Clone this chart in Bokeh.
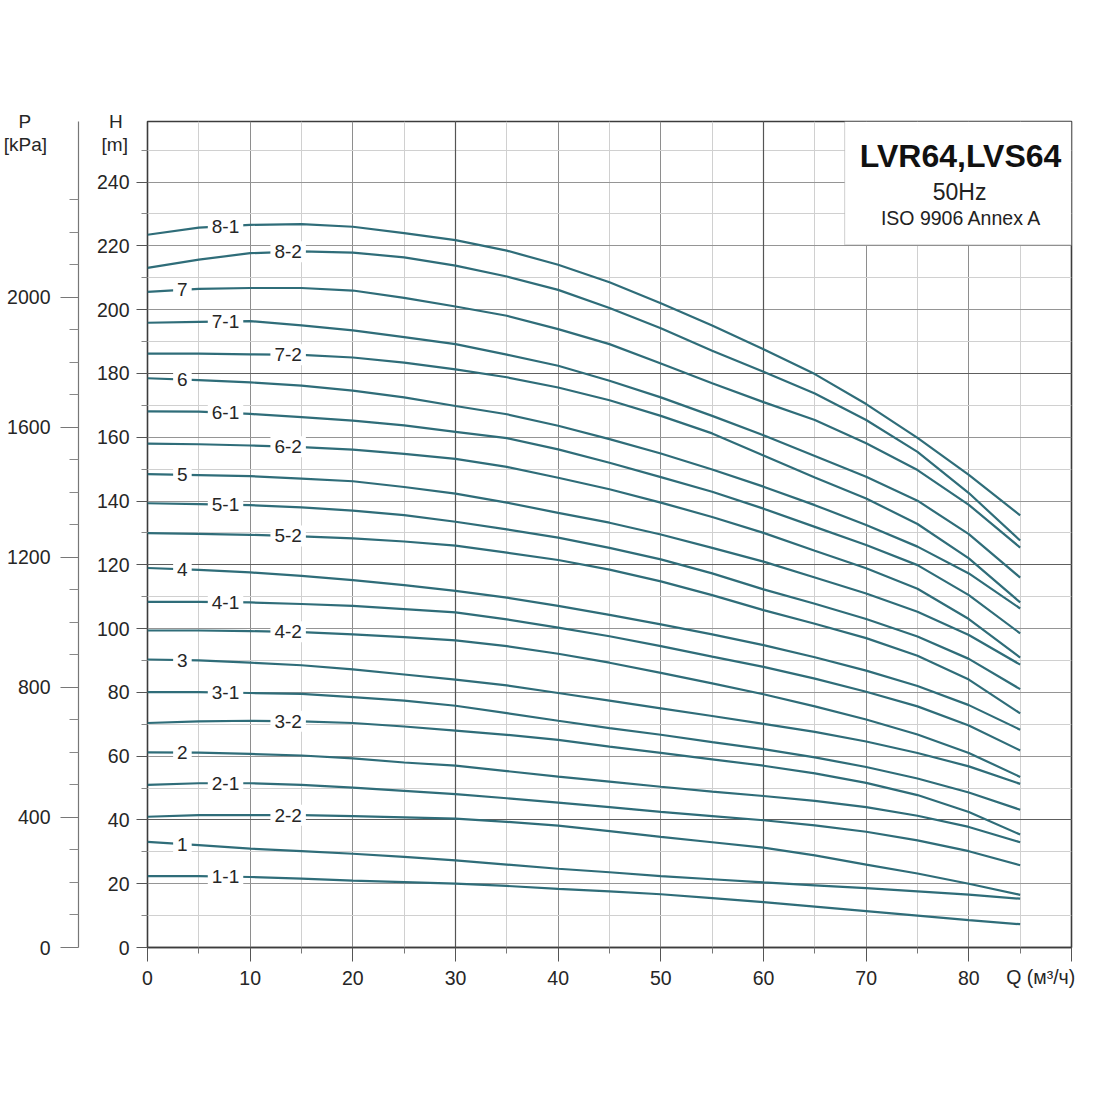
import numpy as np
from bokeh.plotting import figure
from bokeh.models import (Range1d, LinearAxis, FixedTicker, Grid, BoxAnnotation,
                          Label, ColumnDataSource)
from bokeh.embed import file_html
from bokeh.resources import INLINE
from bokeh.core.properties import value

# ---------------- data ----------------
q = [0, 5, 10, 15, 20, 25, 30, 35, 40, 45, 50, 55, 60, 65, 70, 75, 80, 85]

h_8_1 = [223.5, 225.7, 226.6, 226.8, 226.0, 224.0, 221.8, 218.5, 214.1, 208.6, 202.0, 195.0, 187.6, 179.8, 170.4, 159.8, 148.2, 135.5]
h_8_2 = [213.1, 215.7, 217.7, 218.3, 217.9, 216.4, 213.8, 210.4, 206.2, 200.5, 194.2, 187.1, 180.5, 173.7, 165.4, 155.4, 142.5, 127.6]
h_7   = [205.6, 206.5, 206.8, 206.8, 206.0, 203.7, 201.0, 198.1, 193.9, 189.2, 183.1, 176.9, 171.0, 165.4, 158.1, 149.7, 138.8, 125.4]
h_7_1 = [195.9, 196.2, 196.4, 195.1, 193.5, 191.4, 189.2, 185.9, 182.4, 177.7, 172.5, 166.7, 160.6, 154.1, 147.6, 140.1, 129.6, 116.0]
h_7_2 = [186.2, 186.2, 186.0, 185.8, 185.0, 183.4, 181.3, 178.8, 175.6, 171.6, 166.7, 161.2, 154.3, 147.4, 140.8, 132.8, 122.0, 108.2]
h_6   = [178.5, 177.9, 177.2, 176.2, 174.6, 172.5, 169.8, 167.2, 163.6, 159.4, 154.9, 149.9, 144.5, 138.7, 132.5, 125.7, 117.3, 106.3]
h_6_1 = [168.1, 168.0, 167.3, 166.3, 165.2, 163.7, 161.7, 159.7, 156.2, 152.0, 147.5, 142.9, 137.6, 131.9, 126.2, 119.9, 110.5, 98.5]
h_6_2 = [158.0, 157.8, 157.4, 156.9, 156.1, 154.8, 153.2, 150.7, 147.3, 143.7, 139.5, 135.0, 130.0, 124.4, 118.9, 112.5, 103.0, 90.9]
h_5   = [148.4, 148.1, 147.8, 147.0, 146.2, 144.4, 142.3, 139.5, 136.3, 133.2, 129.5, 125.3, 121.0, 116.0, 111.0, 105.3, 98.0, 88.7]
h_5_1 = [139.3, 139.0, 138.7, 138.0, 137.0, 135.6, 133.5, 131.1, 128.5, 125.3, 121.7, 117.3, 112.3, 107.8, 103.0, 97.5, 90.5, 81.0]
h_5_2 = [129.9, 129.7, 129.4, 128.9, 128.3, 127.3, 126.0, 123.8, 121.5, 118.5, 114.8, 110.5, 105.8, 101.5, 97.0, 91.5, 84.0, 73.4]
h_4   = [119.0, 118.4, 117.6, 116.5, 115.2, 113.6, 111.8, 109.7, 107.1, 104.3, 101.3, 98.2, 94.8, 91.0, 86.8, 82.0, 76.0, 68.3]
h_4_1 = [108.4, 108.4, 108.2, 107.7, 107.1, 106.1, 105.1, 102.9, 100.3, 97.6, 94.5, 91.2, 88.0, 84.3, 80.2, 75.6, 69.6, 61.8]
h_4_2 = [99.4, 99.4, 99.2, 98.9, 98.2, 97.3, 96.3, 94.5, 92.1, 89.3, 86.1, 82.8, 79.4, 75.6, 71.5, 66.8, 61.0, 53.5]
h_3   = [90.3, 90.0, 89.3, 88.5, 87.2, 85.6, 84.0, 82.2, 79.8, 77.4, 75.0, 72.6, 70.1, 67.6, 64.6, 61.0, 56.8, 51.3]
h_3_1 = [80.1, 80.1, 79.8, 79.5, 78.5, 77.4, 75.8, 73.5, 71.1, 68.8, 66.7, 64.4, 62.2, 59.6, 56.6, 53.0, 48.6, 43.2]
h_3_2 = [70.4, 70.9, 71.1, 70.9, 70.4, 69.3, 68.0, 66.7, 65.1, 63.0, 61.0, 59.0, 57.0, 54.6, 51.6, 47.8, 42.5, 35.4]
h_2   = [61.2, 61.1, 60.7, 60.2, 59.3, 58.0, 57.0, 55.3, 53.6, 52.0, 50.4, 48.9, 47.5, 46.0, 44.0, 41.3, 37.8, 33.0]
h_2_1 = [51.0, 51.5, 51.5, 51.0, 50.1, 49.1, 48.1, 46.8, 45.4, 44.0, 42.5, 41.2, 39.9, 38.3, 36.3, 33.6, 30.2, 25.8]
h_2_2 = [41.0, 41.5, 41.5, 41.5, 41.2, 40.8, 40.4, 39.4, 38.2, 36.5, 34.7, 33.0, 31.3, 28.9, 26.0, 23.2, 20.0, 16.5]
h_1   = [33.1, 32.1, 31.0, 30.2, 29.4, 28.4, 27.3, 26.0, 24.7, 23.6, 22.4, 21.4, 20.4, 19.5, 18.6, 17.6, 16.6, 15.3]
h_1_1 = [22.4, 22.4, 22.1, 21.6, 21.0, 20.5, 20.0, 19.3, 18.4, 17.6, 16.7, 15.5, 14.2, 12.8, 11.4, 10.0, 8.6, 7.3]

curve_names = ["8-1", "8-2", "7", "7-1", "7-2", "6", "6-1", "6-2", "5", "5-1", "5-2",
               "4", "4-1", "4-2", "3", "3-1", "3-2", "2", "2-1", "2-2", "1", "1-1"]
curve_values = [h_8_1, h_8_2, h_7, h_7_1, h_7_2, h_6, h_6_1, h_6_2, h_5, h_5_1, h_5_2,
                h_4, h_4_1, h_4_2, h_3, h_3_1, h_3_2, h_2, h_2_1, h_2_2, h_1, h_1_1]

q_ticks = [0, 10, 20, 30, 40, 50, 60, 70, 80, 90]
q_minor = [5, 15, 25, 35, 45, 55, 65, 75, 85]
h_ticks = [0, 20, 40, 60, 80, 100, 120, 140, 160, 180, 200, 220, 240]
h_minor = [10, 30, 50, 70, 90, 110, 130, 150, 170, 190, 210, 230, 250]
p_ticks = [0, 400, 800, 1200, 1600, 2000]
p_minor = [100, 200, 300, 500, 600, 700, 900, 1000, 1100, 1300, 1400, 1500,
           1700, 1800, 1900, 2100, 2200, 2300]

title_lines = ["LVR64,LVS64", "50Hz", "ISO 9906 Annex A"]
x_unit_label = "Q (м³/ч)"
x_unit_at = 87          # Q position (under the axis) where the unit caption sits
NB = "\u00a0"
h_caption = "\nH" + NB + "\n[m]"
p_caption = "\nP" + NB * 3 + "\n[kPa]"

# ---------------- styling ----------------
FONT = "Liberation Sans"
CURVE_COLOR = "#2f6d79"
TEXT_COLOR = "#262626"
TICK_FS = "19.5px"
H_MAX = 259
KPA_PER_M = 9.81

p = figure(frame_width=924, frame_height=826,
           x_range=Range1d(0, 90), y_range=Range1d(0, H_MAX),
           output_backend="svg", toolbar_location=None,
           min_border_left=139, min_border_right=22, min_border_top=121,
           min_border_bottom=60, background_fill_color="white",
           border_fill_color="white")
p.outline_line_color = "#3c3c3c"
p.outline_line_width = 1.6

p.extra_y_ranges = {"P": Range1d(0, H_MAX * KPA_PER_M)}

# x axis
xa = p.xaxis[0]
xa.ticker = FixedTicker(ticks=q_ticks, minor_ticks=q_minor)
xa.major_label_overrides = {90: ""}
xa.axis_line_color = "#3c3c3c"
xa.axis_line_width = 1.6
xa.major_tick_out = 14
xa.major_tick_in = 0
xa.minor_tick_out = 6
xa.minor_tick_in = 0
xa.major_tick_line_color = "#555555"
xa.minor_tick_line_color = "#777777"
xa.major_label_standoff = 9
xa.major_label_text_font = FONT
xa.major_label_text_font_size = TICK_FS
xa.major_label_text_color = TEXT_COLOR

# second (tick-less) x axis carrying the unit caption on the same row
xu = LinearAxis(ticker=FixedTicker(ticks=[x_unit_at], minor_ticks=[]),
                major_label_overrides={x_unit_at: x_unit_label},
                axis_line_color=None, major_tick_line_color=None,
                minor_tick_line_color=None, major_tick_out=0, minor_tick_out=0,
                major_tick_in=0, minor_tick_in=0, major_label_standoff=-22,
                major_label_text_font=FONT, major_label_text_font_size=TICK_FS,
                major_label_text_color=TEXT_COLOR)
p.add_layout(xu, "below")

# H axis (nearest to the frame)
ya = p.yaxis[0]
ya.ticker = FixedTicker(ticks=h_ticks + [260], minor_ticks=h_minor)
ya.major_label_overrides = {260: ""}
ya.axis_line_color = None
ya.major_tick_out = 11
ya.major_tick_in = 0
ya.minor_tick_out = 6
ya.minor_tick_in = 0
ya.major_tick_line_color = "#555555"
ya.minor_tick_line_color = "#888888"
ya.major_label_standoff = 7
ya.major_label_text_font = FONT
ya.major_label_text_font_size = TICK_FS
ya.major_label_text_color = TEXT_COLOR
ya.axis_label = h_caption
ya.axis_label_orientation = "horizontal"
ya.axis_label_align = "end"
ya.axis_label_text_font = FONT
ya.axis_label_text_font_size = "19px"
ya.axis_label_text_font_style = "normal"
ya.axis_label_text_color = TEXT_COLOR
ya.axis_label_text_line_height = 1.1
ya.axis_label_standoff = -34

# spacer between the two vertical axes
sp = LinearAxis(ticker=FixedTicker(ticks=[]), axis_line_color=None,
                major_tick_line_color=None, minor_tick_line_color=None,
                major_tick_out=0, minor_tick_out=0, major_label_standoff=0,
                axis_label=" ", axis_label_text_font_size="10px",
                axis_label_standoff=6)
p.add_layout(sp, "left")

# P axis (kPa), further out
pa = LinearAxis(y_range_name="P", ticker=FixedTicker(ticks=p_ticks, minor_ticks=p_minor))
pa.axis_line_color = "#777777"
pa.axis_line_width = 1.2
pa.major_tick_out = 18
pa.major_tick_in = 0
pa.minor_tick_out = 9
pa.minor_tick_in = 0
pa.major_tick_line_color = "#777777"
pa.minor_tick_line_color = "#888888"
pa.major_label_standoff = 10
pa.major_label_text_font = FONT
pa.major_label_text_font_size = TICK_FS
pa.major_label_text_color = TEXT_COLOR
pa.axis_label = p_caption
pa.axis_label_orientation = "horizontal"
pa.axis_label_align = "end"
pa.axis_label_text_font = FONT
pa.axis_label_text_font_size = "19px"
pa.axis_label_text_font_style = "normal"
pa.axis_label_text_color = TEXT_COLOR
pa.axis_label_text_line_height = 1.1
pa.axis_label_standoff = -43
p.add_layout(pa, "left")

# grids
p.xgrid.ticker = FixedTicker(ticks=q_ticks, minor_ticks=q_minor)
p.xgrid.grid_line_color = "#8e8e8e"
p.xgrid.minor_grid_line_color = "#d0d0d0"
p.ygrid.ticker = FixedTicker(ticks=h_ticks + [260], minor_ticks=h_minor)
p.ygrid.grid_line_color = "#959595"
p.ygrid.minor_grid_line_color = "#d0d0d0"
p.add_layout(Grid(dimension=0, ticker=FixedTicker(ticks=[30, 60]),
                  grid_line_color="#555555", grid_line_width=1.2))
p.add_layout(Grid(dimension=1, ticker=FixedTicker(ticks=[40, 120, 180]),
                  grid_line_color="#5e5e5e", grid_line_width=1.2))

# curves
for name, vals in zip(curve_names, curve_values):
    p.line(q, vals, line_color=CURVE_COLOR, line_width=2.2)

# curve labels
def label_q(name):
    if "-" not in name:
        return 3.4
    return 7.6 if name.endswith("-1") else 13.7

lx = [label_q(n) for n in curve_names]
ly = [float(np.interp(x, q, v)) for x, v in zip(lx, curve_values)]
src = ColumnDataSource(dict(x=lx, y=ly, t=curve_names))
p.text(x="x", y="y", text="t", source=src, text_align="center",
       text_baseline="middle", text_font=value(FONT), text_font_size="19px",
       text_color=TEXT_COLOR, background_fill_color="white", padding=4)

# title box
p.add_layout(BoxAnnotation(left=67.9, bottom=220.3, fill_color="white", fill_alpha=1.0,
                           line_color="#7a7a7a", line_width=1.2))
p.add_layout(Label(x=79.2, y=248.3, text=title_lines[0], text_align="center",
                   text_baseline="middle", text_font=FONT, text_font_size="32px",
                   text_font_style="bold", text_color="#111111"))
p.add_layout(Label(x=79.1, y=237.0, text=title_lines[1], text_align="center",
                   text_baseline="middle", text_font=FONT, text_font_size="23px",
                   text_color="#222222"))
p.add_layout(Label(x=79.3, y=228.6, text=title_lines[2], text_align="center",
                   text_baseline="middle", text_font=FONT, text_font_size="19.5px",
                   text_color="#222222"))

open("out.html", "w").write(file_html(p, INLINE))
